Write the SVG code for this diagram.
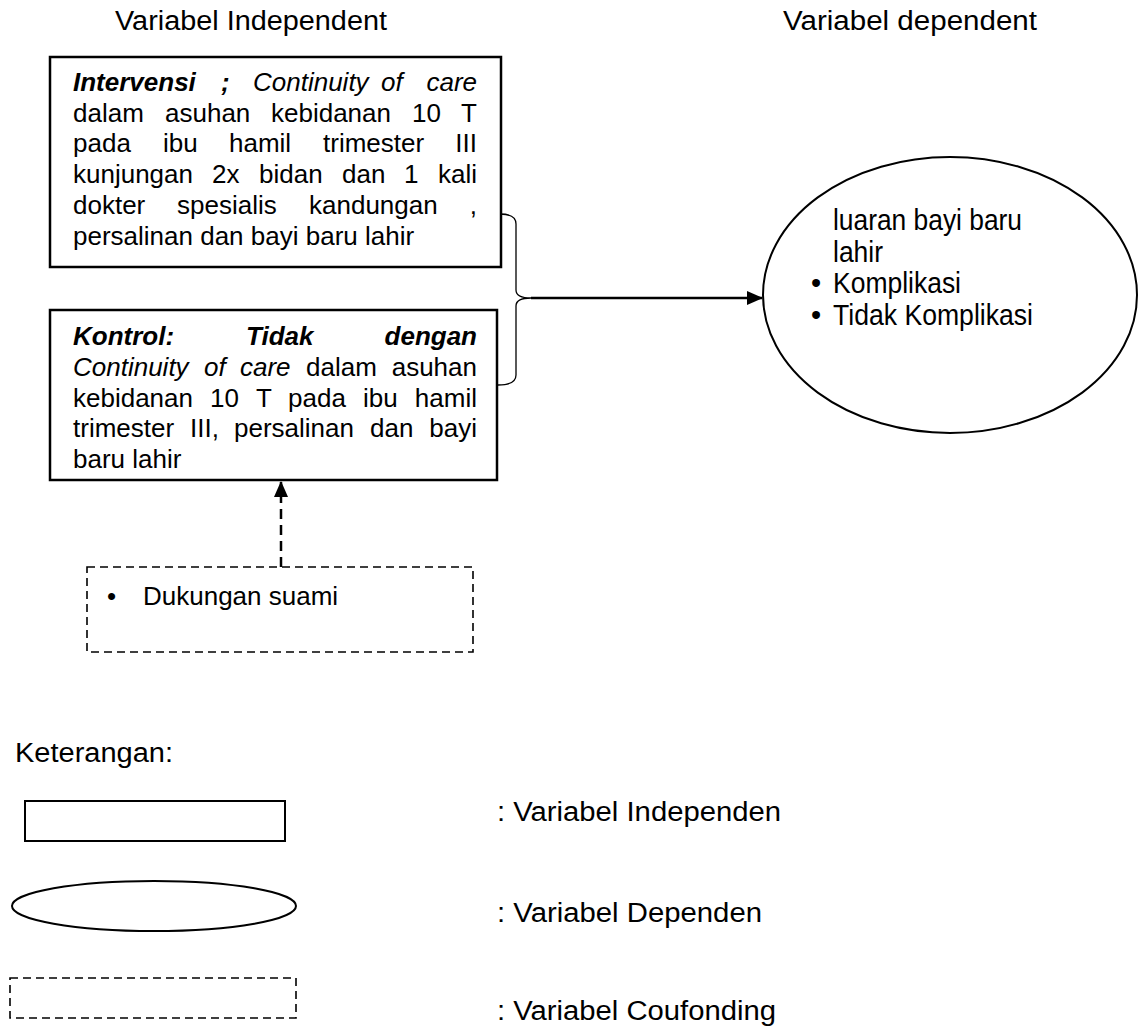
<svg xmlns="http://www.w3.org/2000/svg" width="1138" height="1026" viewBox="0 0 1138 1026">
<style>
text{font-family:"Liberation Sans",Arial,sans-serif;font-size:26px;fill:#000}
.bi{font-weight:bold;font-style:italic}
.i{font-style:italic}
.big{font-size:27px}
.box{fill:#fff;stroke:#000;stroke-width:2.5}
.thin{fill:#fff;stroke:#000;stroke-width:2}
.dash{fill:none;stroke:#000;stroke-width:1.6;stroke-dasharray:8 5}
.ell text{font-size:29px}
</style>
<defs>
<marker id="ah" markerWidth="16" markerHeight="14" refX="15" refY="7" orient="auto" markerUnits="userSpaceOnUse">
<path d="M0,0 L16,7 L0,14 Z" fill="#000"/>
</marker>
</defs>
<rect width="1138" height="1026" fill="#fff"/>
<g id="headers">
<text class="big" x="115" y="30" textLength="272" lengthAdjust="spacingAndGlyphs">Variabel Independent</text>
<text class="big" x="783" y="30" textLength="254" lengthAdjust="spacingAndGlyphs">Variabel dependent</text>
</g>
<g id="intervensi">
<rect class="box" x="50" y="57" width="451" height="210"/>
<text y="91"><tspan x="73" class="bi">Intervensi</tspan><tspan x="221" class="bi">;</tspan><tspan x="253" class="i">Continuity</tspan><tspan x="381" class="i">of</tspan><tspan x="477" class="i" text-anchor="end">care</tspan></text>
<text y="122"><tspan x="73">dalam</tspan><tspan x="165">asuhan</tspan><tspan x="271">kebidanan</tspan><tspan x="412">10</tspan></text>
<text y="122" x="477" text-anchor="end">T</text>
<text y="152"><tspan x="73">pada</tspan><tspan x="163">ibu</tspan><tspan x="229">hamil</tspan><tspan x="323">trimester</tspan></text>
<text y="152" x="477" text-anchor="end">III</text>
<text y="183"><tspan x="73">kunjungan</tspan><tspan x="212">2x</tspan><tspan x="259">bidan</tspan><tspan x="342">dan</tspan><tspan x="404">1</tspan></text>
<text y="183" x="477" text-anchor="end">kali</text>
<text y="214"><tspan x="73">dokter</tspan><tspan x="177">spesialis</tspan><tspan x="309">kandungan</tspan></text>
<text y="214" x="477" text-anchor="end">,</text>
<text y="245" x="73">persalinan dan bayi baru lahir</text>
</g>
<g id="kontrol">
<rect class="box" x="50" y="310" width="447" height="170"/>
<text y="345" class="bi"><tspan x="73">Kontrol:</tspan><tspan x="246">Tidak</tspan></text>
<text y="345" x="477" class="bi" text-anchor="end">dengan</text>
<text y="376"><tspan x="73" class="i">Continuity</tspan><tspan x="204" class="i">of</tspan><tspan x="240" class="i">care</tspan><tspan x="306">dalam</tspan></text>
<text y="376" x="477" text-anchor="end">asuhan</text>
<text y="407"><tspan x="73">kebidanan</tspan><tspan x="210">10</tspan><tspan x="256">T</tspan><tspan x="288">pada</tspan><tspan x="363">ibu</tspan></text>
<text y="407" x="477" text-anchor="end">hamil</text>
<text y="437"><tspan x="73">trimester</tspan><tspan x="190">III,</tspan><tspan x="234">persalinan</tspan><tspan x="370">dan</tspan></text>
<text y="437" x="477" text-anchor="end">bayi</text>
<text y="468" x="73">baru lahir</text>
</g>
<g id="luaran" class="ell">
<ellipse class="thin" cx="950" cy="295" rx="187" ry="138"/>
<text x="833" y="230" textLength="189" lengthAdjust="spacingAndGlyphs">luaran bayi baru</text>
<text x="833" y="262" textLength="50" lengthAdjust="spacingAndGlyphs">lahir</text>
<text x="811" y="293" font-size="22">•</text>
<text x="833" y="293" textLength="128" lengthAdjust="spacingAndGlyphs">Komplikasi</text>
<text x="811" y="325" font-size="22">•</text>
<text x="833" y="325" textLength="200" lengthAdjust="spacingAndGlyphs">Tidak Komplikasi</text>
</g>
<g id="dukungan">
<rect class="dash" x="87" y="567" width="386" height="85"/>
<text x="107" y="605">•</text>
<text x="143" y="605">Dukungan suami</text>
</g>
<g id="connectors">
<path d="M500,214 Q516,214 516,224 L516,290 Q516,298 531,298 Q516,298 516,306 L516,375 Q516,385 498,385" fill="none" stroke="#000" stroke-width="1.3"/>
<line x1="531" y1="298" x2="762" y2="298" stroke="#000" stroke-width="2.5" marker-end="url(#ah)"/>
<line x1="281" y1="567" x2="281" y2="482" stroke="#000" stroke-width="2.5" stroke-dasharray="10 6" marker-end="url(#ah)"/>
</g>
<g id="legend">
<text class="big" x="15" y="762" textLength="158" lengthAdjust="spacingAndGlyphs">Keterangan:</text>
<rect class="thin" x="25" y="801" width="260" height="40"/>
<ellipse class="thin" cx="154" cy="906" rx="142" ry="25"/>
<rect class="dash" x="10" y="978" width="286" height="40"/>
<text class="big" x="497" y="821" textLength="284" lengthAdjust="spacingAndGlyphs">: Variabel Independen</text>
<text class="big" x="497" y="922" textLength="265" lengthAdjust="spacingAndGlyphs">: Variabel Dependen</text>
<text class="big" x="497" y="1020" textLength="279" lengthAdjust="spacingAndGlyphs">: Variabel Coufonding</text>
</g>
</svg>
